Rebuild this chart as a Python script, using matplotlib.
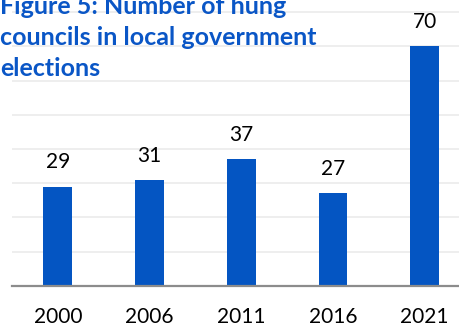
import matplotlib
matplotlib.use("Agg")
import matplotlib.pyplot as plt

# data
years = ["2000", "2006", "2011", "2016", "2021"]
hung_councils = [29, 31, 37, 27, 70]
title = "Figure 5: Number of hung\ncouncils in local government\nelections"

bar_color = "#0455C2"
title_color = "#0A56C6"

plt.rcParams['font.family'] = ['Lato', 'DejaVu Sans']

fig = plt.figure(figsize=(4.6, 3.26), dpi=100)
ax = fig.add_axes([12 / 460, 40.3 / 326, 458.5 / 460, 280.4 / 326])

x = list(range(len(years)))
bars = ax.bar(x, hung_councils, width=0.313, color=bar_color, zorder=3)

for xi, v in zip(x, hung_councils):
    ax.annotate(str(v), (xi, v), xytext=(0, 13), textcoords="offset points",
                ha="center", va="baseline", fontsize=15, color="black")

ax.set_xlim(-0.5, 4.5)
ax.set_ylim(0, 82)
ax.set_yticks(range(0, 81, 10))
ax.yaxis.grid(True, color="#EDEDED", linewidth=1.3, zorder=0)
ax.set_xticks(x)
ax.set_xticklabels(years, fontsize=15)
ax.tick_params(axis="x", length=0, pad=15.5)
ax.tick_params(axis="y", length=0, labelleft=False)
for s in ["top", "right", "left"]:
    ax.spines[s].set_visible(False)
ax.spines["bottom"].set_color("#8C8C8C")
ax.spines["bottom"].set_linewidth(1.6)
ax.spines["bottom"].set_zorder(4)

fig.text(0.0, 1 - 80 / 326, title, ha="left", va="bottom", fontsize=18,
         fontweight="bold", color=title_color, linespacing=1.42)

fig.savefig("out.png", dpi=100)
